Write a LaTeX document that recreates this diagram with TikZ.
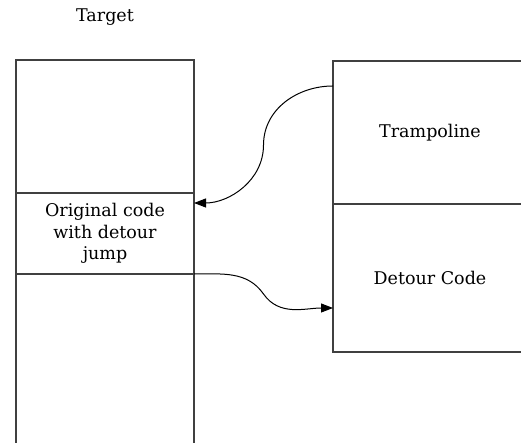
\documentclass[tikz,border=0pt]{standalone}
\usepackage{fontspec}
\setmainfont{DejaVu Serif}
\usetikzlibrary{positioning,calc,arrows.meta}
\tikzset{>={Triangle[length=12pt,width=9pt]}}
\tikzset{block/.style={draw=black!75,line width=1.2pt,inner sep=0pt,outer sep=0pt,align=center}}

\begin{document}
\begin{tikzpicture}[x=1pt,y=1pt,font=\fontsize{17.5}{21.5}\selectfont]
      \useasboundingbox (0,0) rectangle (521,443);
      \clip (0,0) rectangle (521,443);

      % target function, split in three
      \node [block,
        minimum width=178pt,
        minimum height=133pt
      ] (tgttop) at (105,316.5) {};
      \node [block,
        minimum width=178pt,
        minimum height=81pt,
        below=0pt of tgttop
      ] (orig) {Original code\\with detour\\jump};
      \node [block,
        minimum width=178pt,
        minimum height=186pt,
        below=0pt of orig
      ] (tgtlow) {};
      \node [above=31pt of tgttop] (target) {Target};

      % trampoline and detour
      \node [block,
        minimum width=194pt,
        minimum height=143pt
      ] (tramp) at (430,310.5) {Trampoline};
      \node [block,
        minimum width=194pt,
        minimum height=148pt,
        below=0pt of tramp
      ] (detour) {Detour Code};

      \draw[->,line width=1pt] ([yshift=-25pt]tramp.north west)
        to[out=180,in=90] ($(tramp.north west)!.5!(orig.north east)+(0,-18)$)
        to[out=-90,in=0] ([yshift=-10pt]orig.north east);
      \draw[->,line width=1pt] (orig.south east)
        to[out=0,in=125] ($(orig.south east)!.5!([yshift=-30pt]detour.west)+(0,-3)$)
        to[out=-55,in=180] ([yshift=-30pt]detour.west);
\end{tikzpicture}
\end{document}
